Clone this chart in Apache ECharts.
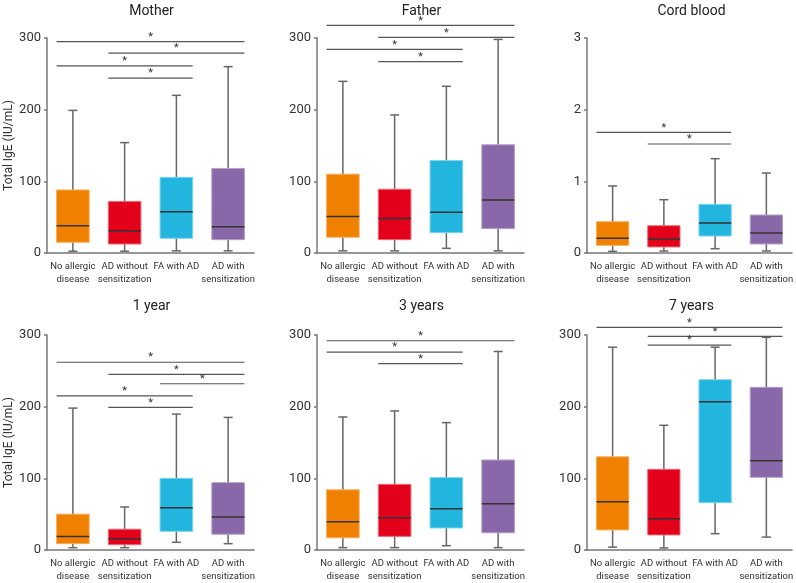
<!DOCTYPE html>
<html><head><meta charset="utf-8">
<script src="https://cdn.jsdelivr.net/npm/echarts@6/dist/echarts.min.js"></script>
<style>html,body{margin:0;padding:0;background:#fff}#c{width:796px;height:583px}</style>
</head><body><div id="c"></div>
<script>
const categories = ['No allergic\ndisease', 'AD without\nsensitization', 'FA with AD', 'AD with\nsensitization'];
const panelTitles = ['Mother', 'Father', 'Cord blood', '1 year', '3 years', '7 years'];
const boxColors = ['#F08000', '#E3001B', '#22B5DD', '#8868A8'];
const boxBorders = ['#F6AE5E', '#EE6A78', '#7ED3EC', '#B4A0CA'];
const yMaxes = [300, 300, 3, 300, 300, 300];
const yIntervals = [100, 100, 1, 100, 100, 100];
const yName = 'Total IgE (IU/mL)';

// each box: [min, Q1, median, Q3, max]
const mother = [[2.5, 15, 38, 88, 199], [2.5, 12.5, 31, 72, 154], [3, 20.5, 57.7, 105.6, 220], [3, 18.6, 36.7, 118, 260]];
const father = [[3, 22, 51, 110, 239.5], [3, 18.6, 48, 89, 192.6], [6.5, 28.4, 56.7, 129, 232.6], [3, 34, 74, 151, 298]];
const cordBlood = [[0.023, 0.107, 0.205, 0.437, 0.935], [0.028, 0.084, 0.195, 0.381, 0.744], [0.06, 0.237, 0.419, 0.679, 1.316], [0.028, 0.126, 0.279, 0.53, 1.116]];
const year1 = [[3.2, 8.8, 19, 50, 198], [3.2, 7.4, 15.8, 29, 60], [10.7, 26, 59, 100, 189.6], [8.8, 22, 46, 94, 185]];
const years3 = [[3.3, 17, 39.5, 84, 185.6], [3.3, 19, 45, 91.6, 194], [6, 30.7, 57.7, 101, 177.7], [3.3, 24, 64.7, 125.6, 277]];
const years7 = [[4, 28, 67.4, 130, 283], [2.8, 21, 43.7, 112.6, 174], [22.8, 66, 207, 237.7, 283], [18, 101.4, 124.6, 227, 296.7]];

// significance brackets: [from group, to group, level]
const motherSig = [[0, 3, 295], [1, 3, 279], [0, 2, 261], [1, 2, 244]];
const fatherSig = [[0, 3, 317.7], [1, 3, 301], [0, 2, 284], [1, 2, 267]];
const cordBloodSig = [[0, 2, 1.684], [1, 2, 1.521]];
const year1Sig = [[0, 3, 262], [1, 3, 245], [2, 3, 232], [0, 2, 215], [1, 2, 199]];
const years3Sig = [[0, 3, 292], [0, 2, 276], [1, 2, 260]];
const years7Sig = [[0, 3, 310.7], [1, 3, 298], [1, 2, 286]];

const panelData = [mother, father, cordBlood, year1, years3, years7];
const panelSig = [motherSig, fatherSig, cordBloodSig, year1Sig, years3Sig, years7Sig];

const FONT = 'Roboto, Arial, sans-serif';
const lefts = [47, 317, 587];
const tops = [38, 335];
const gw = 207, gh = 215;
const BOXW = 0.63;

function renderBox(params, api) {
  const i = api.value(0);
  const idx = params.dataIndex;
  const x = api.coord([i, 0])[0];
  const bw = api.size([1, 0])[0] * BOXW;
  const yMin = api.coord([i, api.value(1)])[1];
  const yQ1 = api.coord([i, api.value(2)])[1];
  const yMed = api.coord([i, api.value(3)])[1];
  const yQ3 = api.coord([i, api.value(4)])[1];
  const yMax = api.coord([i, api.value(5)])[1];
  const cap = 9;
  const wStyle = { stroke: '#666', lineWidth: 1.5 };
  return {
    type: 'group',
    children: [
      { type: 'line', shape: { x1: x, y1: yMin, x2: x, y2: yMax }, style: wStyle },
      { type: 'line', shape: { x1: x - cap / 2, y1: yMin, x2: x + cap / 2, y2: yMin }, style: wStyle },
      { type: 'line', shape: { x1: x - cap / 2, y1: yMax, x2: x + cap / 2, y2: yMax }, style: wStyle },
      { type: 'rect', shape: { x: x - bw / 2, y: yQ3, width: bw, height: yQ1 - yQ3 },
        style: { fill: boxColors[idx], stroke: boxBorders[idx], lineWidth: 1 } },
      { type: 'line', shape: { x1: x - bw / 2, y1: yMed, x2: x + bw / 2, y2: yMed },
        style: { stroke: '#333', lineWidth: 1.5 } }
    ]
  };
}

function renderSig(params, api) {
  const a = api.value(0), b = api.value(1), v = api.value(2);
  const bw = api.size([1, 0])[0] * BOXW;
  const p1 = api.coord([a, v]);
  const p2 = api.coord([b, v]);
  const x1 = p1[0] - bw / 2, x2 = p2[0] + bw / 2, y = p1[1];
  return {
    type: 'group',
    children: [
      { type: 'line', shape: { x1: x1, y1: y, x2: x2, y2: y }, style: { stroke: '#555', lineWidth: 1.2 } },
      { type: 'text', x: (x1 + x2) / 2, y: y + 1, style: { text: '*', fill: '#333', font: '11px ' + FONT, textAlign: 'center', textVerticalAlign: 'bottom' } }
    ]
  };
}

const grid = [], xAxis = [], yAxis = [], series = [], title = [];
for (let p = 0; p < 6; p++) {
  const col = p % 3, row = Math.floor(p / 3);
  grid.push({ left: lefts[col], top: tops[row], width: gw, height: gh });
  title.push({
    text: panelTitles[p], left: lefts[col] + gw / 2 - 4, top: row === 0 ? -1 : 294, textAlign: 'center',
    textStyle: { fontFamily: FONT, fontSize: 14, fontWeight: 'normal', color: '#222' }
  });
  xAxis.push({
    type: 'category', gridIndex: p, data: categories, boundaryGap: true,
    axisLine: { lineStyle: { color: '#777', width: 1.5 } },
    axisTick: { show: false },
    axisLabel: { fontFamily: FONT, fontSize: 9.5, lineHeight: 13, color: '#333', margin: 7, interval: 0 }
  });
  yAxis.push({
    type: 'value', gridIndex: p, min: 0, max: yMaxes[p], interval: yIntervals[p],
    name: col === 0 ? yName : '', nameLocation: 'middle', nameGap: 32,
    nameTextStyle: { fontFamily: FONT, fontSize: 12, color: '#333' },
    axisLine: { show: true, lineStyle: { color: '#777', width: 1.5 } },
    axisTick: { show: true, length: 3, lineStyle: { color: '#777', width: 1.5 } },
    splitLine: { show: false },
    axisLabel: { fontFamily: FONT, fontSize: 13, color: '#333', margin: 6 }
  });
  series.push({
    type: 'custom', xAxisIndex: p, yAxisIndex: p, renderItem: renderBox,
    encode: { x: 0, y: [1, 2, 3, 4, 5] },
    data: panelData[p].map((d, i) => [i].concat(d)), clip: false, silent: true
  });
  series.push({
    type: 'custom', xAxisIndex: p, yAxisIndex: p, renderItem: renderSig,
    encode: { x: [0, 1], y: 2 },
    data: panelSig[p], clip: false, silent: true
  });
}

const chart = echarts.init(document.getElementById('c'), null, { renderer: 'canvas' });
chart.setOption({ animation: false, backgroundColor: '#fff', title, grid, xAxis, yAxis, series });
</script></body></html>
